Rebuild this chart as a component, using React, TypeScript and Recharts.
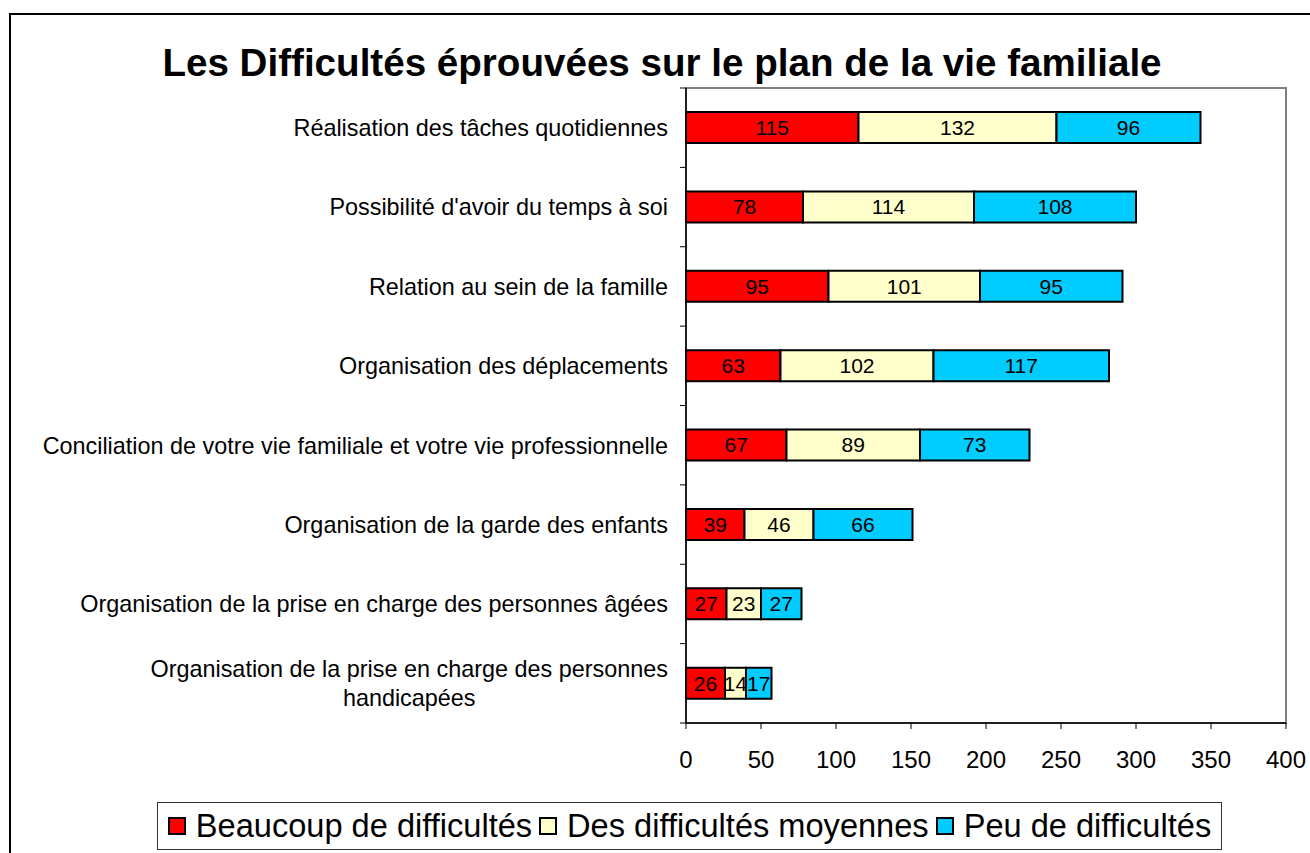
import React from 'react';
import { Bar, BarChart, LabelList, ReferenceArea, XAxis, YAxis } from 'recharts';

// Difficultés éprouvées sur le plan de la vie familiale — barres empilées horizontales

const categories = [
  'Réalisation des tâches quotidiennes',
  "Possibilité d'avoir du temps à soi",
  'Relation au sein de la famille',
  'Organisation des déplacements',
  'Conciliation de votre vie familiale et votre vie professionnelle',
  'Organisation de la garde des enfants',
  'Organisation de la prise en charge des personnes âgées',
  'Organisation de la prise en charge des personnes handicapées',
];

const beaucoup = [115, 78, 95, 63, 67, 39, 27, 26];
const moyennes = [132, 114, 101, 102, 89, 46, 23, 14];
const peu = [96, 108, 95, 117, 73, 66, 27, 17];

const xTicks = [0, 50, 100, 150, 200, 250, 300, 350, 400];

const series = [
  { key: 'beaucoup', name: 'Beaucoup de difficultés', color: '#FF0000' },
  { key: 'moyennes', name: 'Des difficultés moyennes', color: '#FFFFCC' },
  { key: 'peu', name: 'Peu de difficultés', color: '#00CCFF' },
];

const data = categories.map((cat, i) => ({
  cat,
  beaucoup: beaucoup[i],
  moyennes: moyennes[i],
  peu: peu[i],
}));

const FONT = '"Liberation Sans", Arial, sans-serif';
const W = 1310;
const H = 853;
const PLOT_TOP = 88;
const PLOT_BOTTOM = 723;
const BAND = (PLOT_BOTTOM - PLOT_TOP) / categories.length;
const CAT_FONT = 23.4;
const CAT_LINE = 29;
const CAT_MAX_W = 640;

let ctx: CanvasRenderingContext2D | null = null;
function measure(text: string) {
  if (!ctx) {
    ctx = document.createElement('canvas').getContext('2d');
    if (ctx) ctx.font = `${CAT_FONT}px ${FONT}`;
  }
  return ctx ? ctx.measureText(text).width : text.length * CAT_FONT * 0.5;
}

/** retour à la ligne façon Excel : bloc aligné à droite, lignes centrées */
function wrap(text: string) {
  const words = text.split(' ');
  const lines: string[] = [];
  let cur = '';
  for (const w of words) {
    const next = cur ? `${cur} ${w}` : w;
    if (cur && measure(next) > CAT_MAX_W) {
      lines.push(cur);
      cur = w;
    } else {
      cur = next;
    }
  }
  if (cur) lines.push(cur);
  return lines;
}

/** libellé de catégorie + traits de graduation aux limites de bande */
function CategoryTick(props: any) {
  const { x, y, payload, index } = props;
  const axisX = x + 8;
  const right = axisX - 18;
  const lines = wrap(String(payload.value));
  const blockW = Math.max(...lines.map(measure));
  const cx = right - blockW / 2;
  const y0 = y - ((lines.length - 1) * CAT_LINE) / 2;
  return (
    <g>
      <line x1={axisX - 6} x2={axisX} y1={y - BAND / 2} y2={y - BAND / 2} stroke="#000" strokeWidth={1} />
      {index === categories.length - 1 && (
        <line x1={axisX - 6} x2={axisX} y1={y + BAND / 2} y2={y + BAND / 2} stroke="#000" strokeWidth={1} />
      )}
      {lines.map((l, i) => (
        <text
          key={i}
          x={lines.length > 1 ? cx : right}
          y={y0 + i * CAT_LINE}
          dy="0.36em"
          textAnchor={lines.length > 1 ? 'middle' : 'end'}
          fontFamily={FONT}
          fontSize={CAT_FONT}
          fill="#000"
        >
          {l}
        </text>
      ))}
    </g>
  );
}

export default function App() {
  return (
    <div style={{ position: 'absolute', left: 0, top: 0, width: W, height: H, overflow: 'hidden', background: '#fff' }}>
      <div
        style={{
          position: 'absolute',
          left: 9,
          top: 13,
          width: 1400,
          height: 1000,
          border: '2px solid #000',
        }}
      />
      <div
        style={{
          position: 'absolute',
          left: 0,
          width: 1324,
          top: 41,
          textAlign: 'center',
          fontFamily: FONT,
          fontWeight: 'bold',
          fontSize: 38.6,
          lineHeight: '44px',
          color: '#000',
          whiteSpace: 'nowrap',
        }}
      >
        Les Difficultés éprouvées sur le plan de la vie familiale
      </div>
      <div style={{ position: 'absolute', left: 0, top: 0 }}>
        <BarChart
          width={W}
          height={H}
          data={data}
          layout="vertical"
          margin={{ top: PLOT_TOP, right: 24, bottom: 0, left: 0 }}
          barCategoryGap={0}
        >
          <ReferenceArea x1={0} x2={400} stroke="#808080" strokeWidth={2} fill="none" fillOpacity={0} />
          <XAxis
            type="number"
            domain={[0, 400]}
            ticks={xTicks}
            interval={0}
            height={H - PLOT_BOTTOM}
            axisLine={{ stroke: '#000', strokeWidth: 1.5 }}
            tickLine={{ stroke: '#000' }}
            tickSize={6}
            tickMargin={22}
            tick={{ fill: '#000', fontSize: 24, fontFamily: FONT }}
          />
          <YAxis
            type="category"
            dataKey="cat"
            width={686}
            interval={0}
            axisLine={{ stroke: '#000', strokeWidth: 1.5 }}
            tickLine={false}
            tick={<CategoryTick />}
          />
          {series.map((s) => (
            <Bar
              key={s.key}
              dataKey={s.key}
              name={s.name}
              stackId="a"
              fill={s.color}
              stroke="#000"
              strokeWidth={2}
              barSize={31}
              isAnimationActive={false}
            >
              <LabelList dataKey={s.key} position="center" fill="#000" fontSize={21} fontFamily={FONT} />
            </Bar>
          ))}
        </BarChart>
      </div>
      <div
        style={{
          position: 'absolute',
          left: 157,
          top: 802,
          width: 1065,
          height: 48,
          border: '1px solid #333',
          display: 'flex',
          alignItems: 'center',
          justifyContent: 'center',
          gap: 7,
          fontFamily: FONT,
          fontSize: 32.6,
          color: '#000',
          boxSizing: 'border-box',
        }}
      >
        {series.map((s) => (
          <div key={s.key} style={{ display: 'flex', alignItems: 'center', gap: 10 }}>
            <span
              style={{
                display: 'inline-block',
                width: 14,
                height: 14,
                background: s.color,
                border: '2px solid #000',
              }}
            />
            <span>{s.name}</span>
          </div>
        ))}
      </div>
    </div>
  );
}
